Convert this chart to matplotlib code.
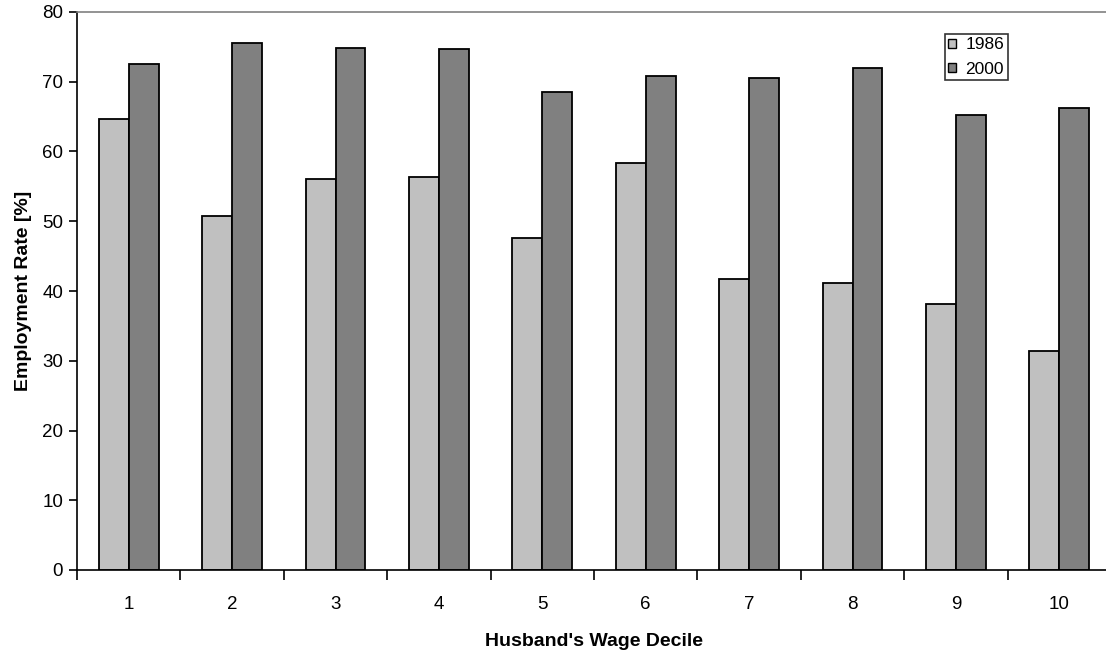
import numpy as np
import matplotlib
matplotlib.use("Agg")
import matplotlib.pyplot as plt
from matplotlib.patches import Patch

# ── data ──────────────────────────────────────────────────────────────────────
DECILES = ["1", "2", "3", "4", "5", "6", "7", "8", "9", "10"]
RATE_1986 = [64.6, 50.7, 56.1, 56.4, 47.6, 58.3, 41.7, 41.1, 38.1, 31.4]
RATE_2000 = [72.6, 75.5, 74.9, 74.7, 68.6, 70.8, 70.6, 72.0, 65.3, 66.3]
SERIES = ["1986", "2000"]
Y_TICKS = [0, 10, 20, 30, 40, 50, 60, 70, 80]

LIGHT = "#c0c0c0"
DARK = "#808080"

plt.rcParams["font.family"] = ["Liberation Sans", "DejaVu Sans"]

fig = plt.figure(figsize=(11.06, 6.54), dpi=100)
# axes runs slightly past the right edge, as in the source image
ax = fig.add_axes([77 / 1106, 84 / 654, 1034 / 1106, 558 / 654])

x = np.arange(len(DECILES))
w = 0.29
ax.bar(x - w / 2, RATE_1986, w, color=LIGHT, edgecolor="black", linewidth=1.3)
ax.bar(x + w / 2, RATE_2000, w, color=DARK, edgecolor="black", linewidth=1.3)

ax.set_xlim(-0.5, len(DECILES) - 0.5)
ax.set_ylim(0, 80)
ax.set_yticks(Y_TICKS)
ax.set_xticks(x)
ax.set_xticklabels(DECILES)
ax.set_xticks(np.arange(len(DECILES) + 1) - 0.5, minor=True)
ax.tick_params(axis="x", which="major", length=0, pad=19, labelsize=13.5)
ax.tick_params(axis="x", which="minor", length=7, width=1.2, direction="out")
ax.tick_params(axis="y", length=6, width=1.2, direction="out", pad=4, labelsize=13.5)

ax.spines["right"].set_visible(False)
ax.spines["top"].set_color("#808080")
ax.spines["top"].set_linewidth(1.2)
ax.spines["left"].set_linewidth(1.2)
ax.spines["bottom"].set_linewidth(1.2)

ax.set_ylabel("Employment Rate [%]", fontsize=14, fontweight="bold", labelpad=7)
ax.set_xlabel("Husband's Wage Decile", fontsize=14, fontweight="bold", labelpad=14)

handles = [Patch(facecolor=LIGHT, edgecolor="black"),
           Patch(facecolor=DARK, edgecolor="black")]
leg = fig.legend(handles, SERIES, loc="upper left",
                 bbox_to_anchor=(945 / 1106, 1 - 34 / 654),
                 fontsize=12.5, frameon=True, fancybox=False, borderpad=0.2,
                 handlelength=0.42, handleheight=0.42, handletextpad=0.55,
                 labelspacing=0.55, borderaxespad=0)
leg.get_frame().set_edgecolor("black")
leg.get_frame().set_linewidth(1.2)

fig.savefig("out.png", dpi=100)
